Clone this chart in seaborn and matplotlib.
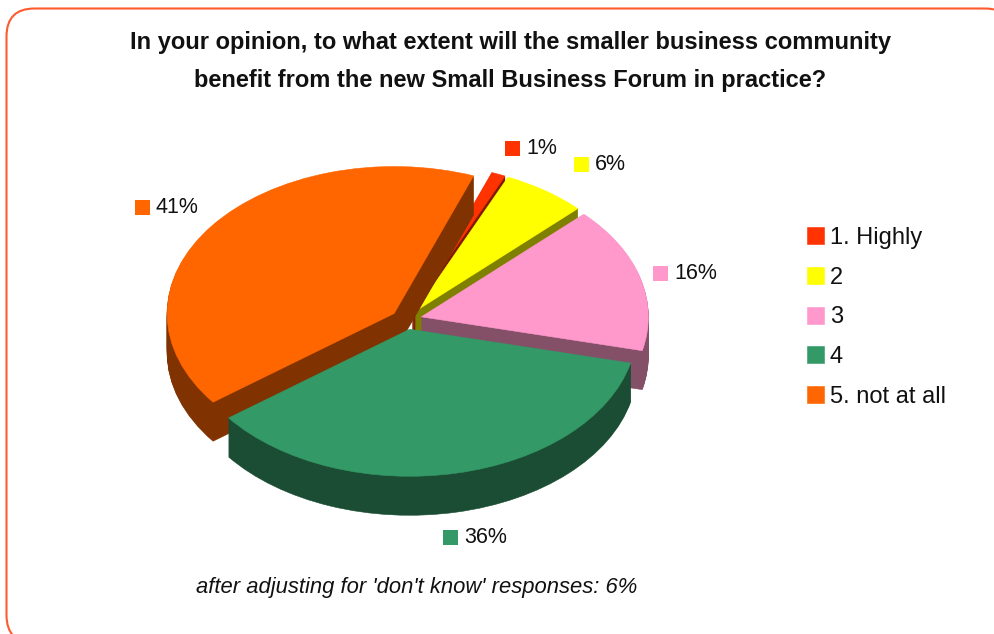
import matplotlib
matplotlib.use("Agg")
import matplotlib.pyplot as plt
from matplotlib.patches import FancyBboxPatch, Rectangle
from matplotlib.transforms import Affine2D
import seaborn as sns

categories = ["1. Highly", "2", "3", "4", "5. not at all"]
shares = [1, 6, 16, 36, 41]
share_labels = ["1%", "6%", "16%", "36%", "41%"]
title_lines = ["In your opinion, to what extent will the smaller business community",
               "benefit from the new Small Business Forum in practice?"]
footnote = "after adjusting for 'don't know' responses: 6%"

face_colors = ["#FF3300", "#FFFF00", "#FF99CC", "#339966", "#FF6600"]
side_colors = ["#801A00", "#808000", "#845068", "#1A4D33", "#803300"]
explode = [0.068] * 5
paint_rank = [0, 1, 3, 4, 2]  # back slices first, the front green slice last

W, H = 995, 634
CX, CY, RX, RY = 406.5, 319.5, 227, 147
DEPTH = 39

sns.set_theme(style="white")
plt.rcParams["font.family"] = ["Liberation Sans", "DejaVu Sans"]

fig = plt.figure(figsize=(W / 100, H / 100), dpi=100, facecolor="white")
ax = fig.add_axes([0, 0, 1, 1])
pix = Affine2D().scale(1, -1).translate(0, H)  # top-left pixel coordinates


def draw_pie(colors, drop, layer):
    wedges, _ = ax.pie(shares, explode=explode, colors=sns.color_palette(colors),
                       startangle=69.5, counterclock=False, radius=1,
                       center=(0, -drop / RY),
                       wedgeprops={"linewidth": 0.4})
    for wedge, color, rank in zip(wedges, colors, paint_rank):
        wedge.set_edgecolor(color)
        wedge.set_zorder(2 + rank * 2 + layer)
    return wedges


# Extrude the slices downward, then lay the faces over the sides
for drop in range(DEPTH, 0, -1):
    draw_pie(side_colors, drop, 0)
top_wedges = draw_pie(face_colors, 0, 1)

ax.set_aspect("auto")
ax.set_xlim(-CX / RX, (W - CX) / RX)
ax.set_ylim((CY - H) / RY, CY / RY)
ax.axis("off")

# Rounded border, running off the right and bottom of the canvas
r = 28
ax.add_patch(FancyBboxPatch((6.5 + r, 8.5 + r), 1013 - 6.5 - 2 * r, 643 - 8.5 - 2 * r,
                            boxstyle=f"round,pad={r},rounding_size={r}",
                            transform=pix, fc="white", ec="#FF5A2E", lw=1.5,
                            zorder=0, clip_on=False))

ax.text(510, 42, title_lines[0], transform=pix, ha="center", va="center",
        fontsize=17, fontweight="bold", color="#111111", zorder=30)
ax.text(510, 80, title_lines[1], transform=pix, ha="center", va="center",
        fontsize=17, fontweight="bold", color="#111111", zorder=30)
ax.text(416.5, 587, footnote, transform=pix, ha="center", va="center",
        fontsize=15.8, fontstyle="italic", color="#111111", zorder=30)

# Value labels with their small colour keys
label_keys = [(505, 148), (574, 164), (653, 273), (443, 537), (135, 207)]
for text, color, (kx, ky) in zip(share_labels, face_colors, label_keys):
    ax.add_patch(Rectangle((kx, ky - 7.5), 15, 15, transform=pix, fc=color, ec="none",
                           zorder=30, clip_on=False))
    ax.text(kx + 21, ky + 0.5, text, transform=pix, ha="left", va="center",
            fontsize=15.5, color="#111111", zorder=30)

legend = ax.legend(top_wedges, categories, loc="upper left",
                   bbox_to_anchor=(807 / W, 1 - 227 / H), bbox_transform=fig.transFigure,
                   frameon=False, fontsize=17, handlelength=0.72, handleheight=0.72,
                   handletextpad=0.25, labelspacing=0.75, borderpad=0, borderaxespad=0)
legend.set_zorder(30)
for text in legend.get_texts():
    text.set_color("#111111")

fig.savefig("out.png", dpi=100)
